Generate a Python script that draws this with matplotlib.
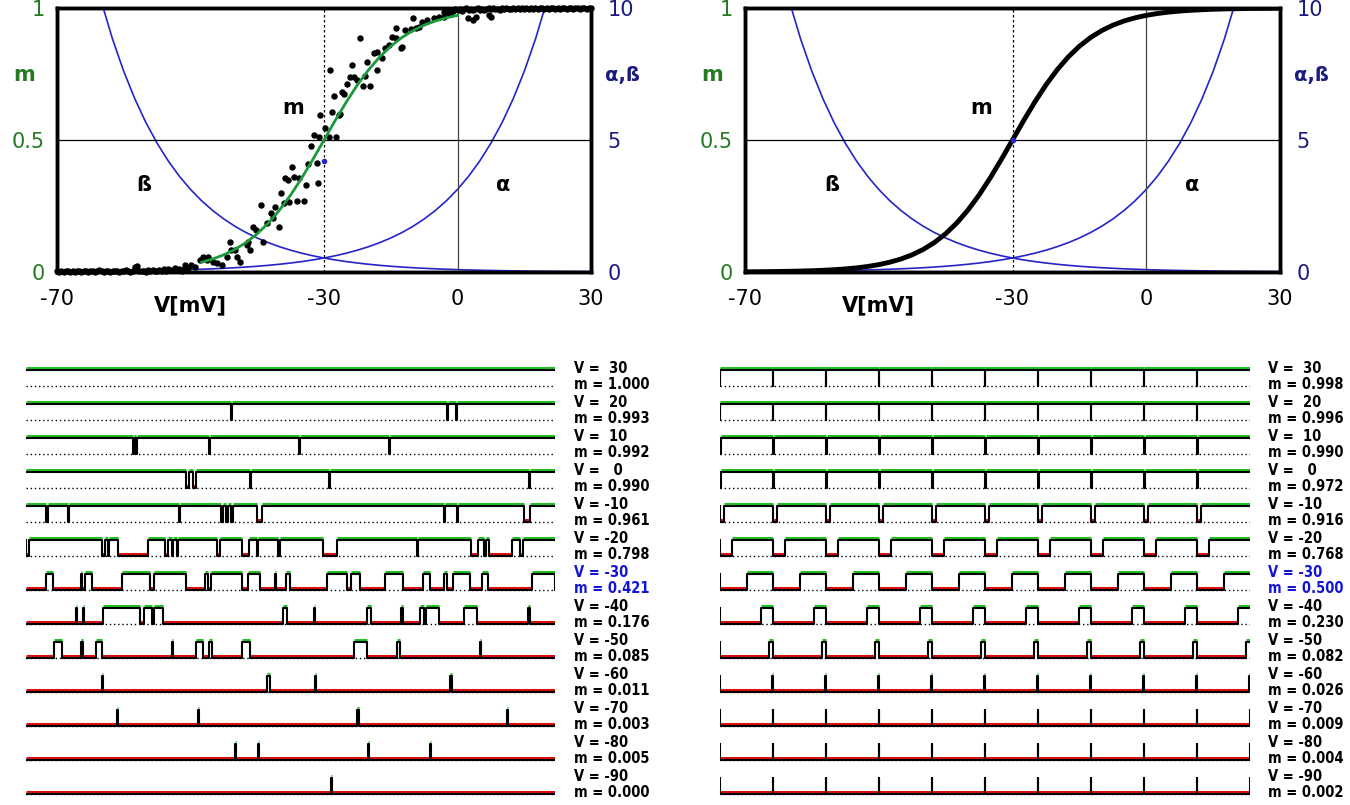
import numpy as np
import matplotlib
matplotlib.use("Agg")
from matplotlib import pyplot as plt

# ---- top panels: gating curves (2.5 mV spacing from -90 to 30) ----
v_grid = np.arange(-90, 30.1, 2.5)
alpha = [0.0152, 0.0176, 0.0205, 0.0238, 0.0275, 0.0319, 0.0370, 0.0429, 0.0497, 0.0576,
         0.0668, 0.0775, 0.0898, 0.1041, 0.1207, 0.1400, 0.1623, 0.1882, 0.2181, 0.2529,
         0.2933, 0.3401, 0.3943, 0.4572, 0.530, 0.6145, 0.7125, 0.8261, 0.9578, 1.1106,
         1.288, 1.493, 1.731, 2.007, 2.327, 2.698, 3.128, 3.627, 4.206, 4.877,
         5.654, 6.556, 7.600, 8.812, 10.22, 11.85, 13.73, 15.92, 18.46]
beta = [18.46, 15.92, 13.73, 11.85, 10.22, 8.812, 7.600, 6.556, 5.654, 4.877,
        4.206, 3.627, 3.128, 2.698, 2.327, 2.007, 1.731, 1.493, 1.288, 1.1106,
        0.9578, 0.8261, 0.7125, 0.6145, 0.530, 0.4572, 0.3943, 0.3401, 0.2933, 0.2529,
        0.2181, 0.1882, 0.1623, 0.1400, 0.1207, 0.1041, 0.0898, 0.0775, 0.0668, 0.0576,
        0.0497, 0.0429, 0.0370, 0.0319, 0.0275, 0.0238, 0.0205, 0.0176, 0.0152]
m_inf = [0.0008, 0.0011, 0.0015, 0.0020, 0.0027, 0.0036, 0.0048, 0.0065, 0.0087, 0.0117,
         0.0156, 0.0209, 0.0279, 0.0372, 0.0493, 0.0652, 0.0857, 0.1119, 0.1449, 0.1855,
         0.2344, 0.2915, 0.3563, 0.4265, 0.5, 0.5735, 0.6437, 0.7085, 0.7656, 0.8145,
         0.8551, 0.8881, 0.9143, 0.9348, 0.9507, 0.9628, 0.9721, 0.9791, 0.9844, 0.9883,
         0.9913, 0.9935, 0.9952, 0.9964, 0.9973, 0.9980, 0.9985, 0.9989, 0.9992]

# measured open fraction (left panel dots)
band_left_m = [0.004, 0.001, 0.003, 0.000, 0.002, 0.005, 0.001, 0.003, 0.000, 0.004,
               0.002, 0.001, 0.005, 0.003, 0.000, 0.002, 0.004, 0.001, 0.003, 0.006,
               0.002, 0.000, 0.004, 0.003, 0.001, 0.005, 0.002, 0.003, 0.000, 0.004,
               0.002, 0.006, 0.003, 0.001, 0.004, 0.018, 0.021, 0.005, 0.002, 0.004,
               0.001, 0.006, 0.003, 0.008, 0.004, 0.002, 0.007, 0.005, 0.010, 0.004,
               0.012, 0.006, 0.009, 0.015, 0.007, 0.011, 0.004, 0.013, 0.009, 0.016]
band_right_m = [0.985, 0.990, 0.981, 0.994, 0.988, 0.996, 0.992, 0.998, 0.990, 0.995,
                0.999, 0.993, 0.997, 0.991, 0.996, 1.000, 0.994, 0.998, 0.992, 0.997,
                0.999, 0.995, 1.000, 0.996, 0.998, 0.993, 0.999, 0.997, 1.000, 0.995,
                0.998, 0.999, 0.996, 1.000, 0.997, 0.999, 0.998, 1.000, 0.996, 0.999,
                0.997, 1.000, 0.998, 0.999, 1.000, 0.997, 0.999, 0.998, 1.000, 0.999,
                0.997, 1.000, 0.998, 0.999, 1.000, 0.998, 0.999, 1.000, 0.997, 0.999,
                1.000, 0.998, 1.000, 0.999, 0.998, 1.000, 0.999]
scat_v = [-61.3, -59.8, -59.0, -57.9, -57.1, -56.4, -56.0, -54.9, -54.1, -53.0,
          -51.9, -51.1, -50.8, -50.0, -49.6, -48.9, -47.4, -47.0, -46.6, -45.9,
          -45.3, -44.2, -43.6, -42.9, -41.9, -41.4, -41.1, -40.2, -39.6, -39.1,
          -38.7, -38.0, -37.8, -37.2, -36.8, -36.1, -35.7, -34.6, -34.1, -33.6,
          -32.9, -32.3, -31.6, -31.4, -31.2, -30.8, -29.7, -28.9, -28.6, -28.2,
          -27.7, -27.3, -26.7, -26.3, -25.9, -25.6, -24.8, -24.1, -23.7, -23.3,
          -22.6, -21.8, -21.3, -20.8, -20.3, -19.6, -18.8, -18.0, -18.0, -16.9,
          -16.2, -15.3, -14.8, -13.9, -13.8, -12.8, -12.4, -11.7, -10.5, -10.1,
          -9.4, -8.6, -7.9, -6.8, -5.3, -4.1, -3.0, -2.3, -1.5, 2.3,
          3.4, 4.1, 7.1, 7.5]
scat_m = [0.027, 0.027, 0.020, 0.045, 0.058, 0.045, 0.058, 0.039, 0.033, 0.027,
          0.058, 0.115, 0.083, 0.083, 0.058, 0.039, 0.102, 0.115, 0.083, 0.172,
          0.159, 0.254, 0.115, 0.184, 0.222, 0.203, 0.245, 0.172, 0.300, 0.260,
          0.355, 0.348, 0.266, 0.399, 0.361, 0.269, 0.355, 0.270, 0.330, 0.409,
          0.477, 0.519, 0.412, 0.338, 0.513, 0.595, 0.547, 0.513, 0.765, 0.605,
          0.668, 0.513, 0.595, 0.600, 0.683, 0.673, 0.711, 0.740, 0.784, 0.740,
          0.727, 0.885, 0.706, 0.744, 0.797, 0.706, 0.828, 0.834, 0.765, 0.809,
          0.850, 0.860, 0.891, 0.925, 0.885, 0.847, 0.853, 0.917, 0.920, 0.961,
          0.925, 0.929, 0.948, 0.955, 0.961, 0.967, 0.967, 0.992, 0.984, 0.961,
          0.955, 0.965, 0.973, 0.967]

# ---- bottom panels: channel records ----
trace_V = [30, 20, 10, 0, -10, -20, -30, -40, -50, -60, -70, -80, -90]
left_m = [1.000, 0.993, 0.992, 0.990, 0.961, 0.798, 0.421, 0.176, 0.085, 0.011, 0.003, 0.005, 0.000]
right_m = [0.998, 0.996, 0.990, 0.972, 0.916, 0.768, 0.500, 0.230, 0.082, 0.026, 0.009, 0.004, 0.002]

# left: stochastic records; first 6 rows list closures, the rest list openings (time 0..100)
left_start_open = [True] * 6 + [False] * 7
left_events = [
    [],
    [(38.9, 39.1), (79.7, 79.9), (81.3, 81.5)],
    [(20.3, 20.5), (20.8, 21.0), (34.6, 34.8), (51.6, 51.8), (68.7, 68.9)],
    [(30.3, 30.8), (31.7, 32.3), (42.5, 42.7), (57.3, 57.5), (95.2, 95.4)],
    [(3.8, 4.3), (8.0, 8.2), (29.0, 29.2), (37.0, 37.3), (37.9, 38.3), (38.9, 39.3),
     (43.8, 44.6), (79.0, 79.3), (81.5, 81.7), (94.3, 95.3)],
    [(0, 0.7), (14.4, 15.0), (15.5, 15.7), (17.5, 23.2), (26.4, 27.0), (27.6, 27.9),
     (28.6, 28.8), (36.1, 36.7), (41.0, 42.3), (43.7, 44.0), (47.8, 48.0), (56.3, 58.8),
     (73.9, 74.2), (84.2, 85.5), (86.7, 87.0), (87.6, 91.9), (93.4, 94.0)],
    [(3.9, 5.1), (10.4, 10.6), (11.3, 12.6), (18.2, 23.6), (24.3, 30.4), (33.9, 34.4),
     (35.0, 41.0), (42.0, 44.3), (47.1, 47.4), (49.3, 49.9), (56.9, 60.7), (61.6, 63.2),
     (67.9, 71.4), (75.2, 76.4), (79.1, 79.6), (80.8, 84.0), (86.2, 87.5), (95.7, 100)],
    [(9.6, 9.8), (10.9, 11.1), (14.7, 21.6), (22.3, 23.8), (24.2, 26.0), (48.6, 49.5),
     (54.6, 54.8), (64.5, 65.3), (71.0, 71.3), (74.5, 75.3), (75.6, 78.1), (82.9, 85.3),
     (95.0, 95.3)],
    [(5.4, 6.9), (10.4, 10.8), (13.4, 14.4), (27.7, 27.9), (32.3, 33.5), (34.7, 35.2),
     (41.0, 42.4), (62.0, 64.5), (70.3, 70.7), (85.9, 86.1)],
    [(14.5, 14.7), (45.6, 46.2), (54.7, 54.9), (80.2, 80.6)],
    [(17.3, 17.5), (32.5, 32.7), (62.7, 63.0), (91.0, 91.2)],
    [(39.5, 39.7), (43.9, 44.2), (64.7, 65.0), (76.4, 76.6)],
    [(57.8, 58.0)],
]
# right: deterministic records, closed at the start of each of 10 periods for this long
right_closed = [0.02, 0.04, 0.10, 0.28, 0.84, 2.32, 5.0, 7.7, 9.18, 9.74, 9.91, 9.96, 9.98]
period = 10

GREEN_T = '#237a23'
NAVY = '#1a1a80'
BLUE = '#2424c8'

fig = plt.figure(figsize=(13.5, 8.05), dpi=100)


def top_panel(rect, right):
  ax = fig.add_axes(rect)
  ax2 = ax.twinx()
  ax.set_zorder(ax2.get_zorder() + 1)
  ax.patch.set_visible(False)
  ax.set_xlim(-90, 30)
  ax.set_ylim(0, 1)
  ax2.set_ylim(0, 10)
  ax2.plot(v_grid, alpha, color=BLUE, lw=1.2)
  ax2.plot(v_grid, beta, color=BLUE, lw=1.2)
  ax.axhline(0.5, color='k', lw=0.9, zorder=0)
  ax.axvline(0, color='#444444', lw=0.9, zorder=0)
  ax.axvline(-30, color='k', lw=0.9, ls=(0, (2, 2)), zorder=0)
  if right:
    ax.plot(v_grid, m_inf, color='k', lw=3.5)
    ax.plot([-30], [0.5], 'o', color=BLUE, ms=3)
  else:
    ax.plot(-90 + 0.5 * np.arange(len(band_left_m)), band_left_m, 'o', color='k', ms=3.6, clip_on=False)
    ax.plot(-3 + 0.5 * np.arange(len(band_right_m)), band_right_m, 'o', color='k', ms=3.6, clip_on=False)
    ax.plot(scat_v, scat_m, 'o', color='k', ms=3.6)
    ax.plot(v_grid[13:37], m_inf[13:37], color='#1a9a3a', lw=2)
    ax.plot([-30], [0.421], 'o', color=BLUE, ms=3)
  for a in (ax, ax2):
    for s in a.spines.values():
      s.set_linewidth(2.5)
  ax.set_xticks([-90, -30, 0, 30])
  ax.set_xticklabels(['-70', '-30', '0', '30'])
  ax.set_yticks([0, 0.5, 1])
  ax.set_yticklabels(['0', '0.5', '1'], color=GREEN_T)
  ax2.set_yticks([0, 5, 10])
  ax2.set_yticklabels(['0', '5', '10'], color=NAVY)
  ax.tick_params(axis='x', length=0, pad=12, labelsize=15)
  ax.tick_params(axis='y', length=0, pad=9, labelsize=15)
  ax2.tick_params(axis='y', length=0, pad=12, labelsize=15)
  ax.text(-60, -0.125, 'V[mV]', transform=ax.get_xaxis_transform(), ha='center', va='center',
          fontsize=15, fontweight='bold')
  ax.text(-0.062, 0.745, 'm', transform=ax.transAxes, ha='center', va='center',
          fontsize=15, fontweight='bold', color=GREEN_T)
  ax.text(1.058, 0.745, 'α,ß', transform=ax.transAxes, ha='center', va='center',
          fontsize=14, fontweight='bold', color=NAVY)
  ax.text(-37, 0.62, 'm', ha='center', va='center', fontsize=15, fontweight='bold')
  ax.text(-70.5, 0.33, 'ß', ha='center', va='center', fontsize=15, fontweight='bold')
  ax.text(10.2, 0.33, 'α', ha='center', va='center', fontsize=15, fontweight='bold')


top_panel([57 / 1350, 1 - 272 / 805, 534 / 1350, 264 / 805], False)
top_panel([745 / 1350, 1 - 272 / 805, 535 / 1350, 264 / 805], True)


def draw_trace(ax, base, events, start_open):
  hi = base + 16
  ax.plot([0, 100], [base, base], color='k', lw=1.0, ls=(0, (1, 2)))
  edges = [0.0]
  for a, b in events:
    edges += [a, b]
  edges.append(100.0)
  xs, ys = [], []
  state = start_open
  for x0, x1 in zip(edges[:-1], edges[1:]):
    lvl = hi if state else base
    xs += [x0, x1]
    ys += [lvl, lvl]
    if x1 > x0:
      ax.plot([x0, x1], [lvl + 1.8, lvl + 1.8], color='#22c022' if state else '#dc1010',
              lw=2.2, solid_capstyle='butt')
    state = not state
  ax.plot(xs, ys, color='k', lw=1.5)


def bottom_panel(rect, m_vals, rows, label_x):
  ax = fig.add_axes(rect)
  ax.set_xlim(0, 100)
  ax.set_ylim(-805, -355)
  ax.axis('off')
  for i, (events, start_open) in enumerate(rows):
    base = -(386 + 34 * i)
    draw_trace(ax, base, events, start_open)
    col = '#1414d8' if trace_V[i] == -30 else 'k'
    for txt, y in (('V = %3d' % trace_V[i], base + 18), ('m = %.3f' % m_vals[i], base + 2)):
      ax.text(label_x, y, txt, ha='left', va='center', fontsize=10.5, fontweight='bold',
              family='DejaVu Sans', fontstretch='condensed', color=col, clip_on=False)


left_rows = list(zip(left_events, left_start_open))
bottom_panel([25.6 / 1350, 0, 529 / 1350, 450 / 805], left_m, left_rows, 103.6)

right_rows = []
for d in right_closed:
  right_rows.append(([(k * period, k * period + d) for k in range(10)], True))
bottom_panel([720 / 1350, 0, 530 / 1350, 450 / 805], right_m, right_rows, 103.4)

fig.savefig('out.png', dpi=100, facecolor='white')
